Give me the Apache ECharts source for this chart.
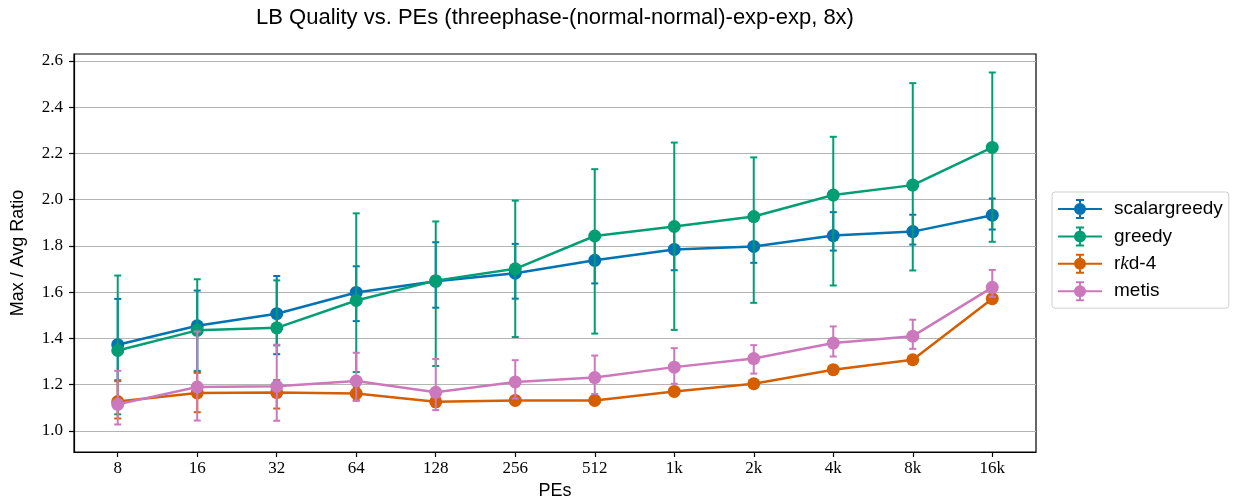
<!DOCTYPE html>
<html>
<head>
<meta charset="utf-8">
<script src="https://cdn.jsdelivr.net/npm/echarts@6/dist/echarts.min.js"></script>
<style>
  html, body { margin: 0; padding: 0; background: #fff; }
  #chart { width: 1233px; height: 499px; }
</style>
</head>
<body>
<div id="chart"></div>
<script>
// PE counts on the x axis
const categories = ['8', '16', '32', '64', '128', '256', '512', '1k', '2k', '4k', '8k', '16k'];
const yTicks = [1.0, 1.2, 1.4, 1.6, 1.8, 2.0, 2.2, 2.4, 2.6];

// Max/avg load ratio per strategy: centre value and error-bar ends
const scalargreedyMean = [1.373, 1.455, 1.507, 1.599, 1.647, 1.682, 1.738, 1.785, 1.798, 1.845, 1.862, 1.933];
const scalargreedyLow  = [1.219, 1.255, 1.332, 1.475, 1.533, 1.572, 1.638, 1.695, 1.727, 1.780, 1.806, 1.871];
const scalargreedyHigh = [1.571, 1.607, 1.670, 1.712, 1.816, 1.809, 1.840, 1.882, 1.810, 1.946, 1.935, 2.005];

const greedyMean = [1.348, 1.435, 1.446, 1.564, 1.650, 1.701, 1.843, 1.884, 1.927, 2.020, 2.063, 2.226];
const greedyLow  = [1.072, 1.260, 1.370, 1.255, 1.281, 1.406, 1.421, 1.437, 1.554, 1.629, 1.694, 1.818];
const greedyHigh = [1.672, 1.656, 1.651, 1.941, 1.906, 1.996, 2.132, 2.247, 2.183, 2.272, 2.504, 2.550];

const rkdMean = [1.127, 1.164, 1.166, 1.162, 1.126, 1.132, 1.132, 1.171, 1.204, 1.265, 1.308, 1.572];
const rkdLow  = [1.054, 1.081, 1.097, 1.133, 1.105, 1.118, 1.118, 1.160, 1.195, 1.257, 1.300, 1.565];
const rkdHigh = [1.215, 1.251, 1.220, 1.190, 1.148, 1.146, 1.146, 1.183, 1.213, 1.273, 1.316, 1.580];

const metisMean = [1.115, 1.190, 1.193, 1.216, 1.167, 1.212, 1.231, 1.276, 1.313, 1.380, 1.410, 1.621];
const metisLow  = [1.028, 1.045, 1.044, 1.130, 1.090, 1.140, 1.160, 1.204, 1.248, 1.322, 1.355, 1.580];
const metisHigh = [1.260, 1.430, 1.373, 1.338, 1.311, 1.306, 1.326, 1.358, 1.371, 1.452, 1.481, 1.696];

const seriesDefs = [
  { name: 'scalargreedy', color: '#0173b2', mean: scalargreedyMean, low: scalargreedyLow, high: scalargreedyHigh },
  { name: 'greedy',       color: '#029e73', mean: greedyMean,       low: greedyLow,       high: greedyHigh },
  { name: 'rkd-4',        color: '#d55e00', mean: rkdMean,          low: rkdLow,          high: rkdHigh },
  { name: 'metis',        color: '#cc78bc', mean: metisMean,        low: metisLow,        high: metisHigh }
];

// Legend glyph: line, marker and capped error bar (all sub-paths clockwise)
const LEGEND_ICON = 'path://M0,10H44V12H0Z M21,1H23V21H21Z M18,1H26V3H18Z M18,19H26V21H18Z ' +
  'M16,11A6,6 0 1,1 28,11A6,6 0 1,1 16,11Z';

const sansFont = '"Liberation Sans", Arial, sans-serif';
const serifFont = '"Liberation Serif", "DejaVu Serif", serif';

function errorBars(def, z) {
  return {
    type: 'custom',
    name: def.name + ' (spread)',
    z: z,
    silent: true,
    animation: false,
    data: categories.map((c, i) => [i, def.low[i], def.high[i]]),
    encode: { x: 0, y: [1, 2] },
    renderItem: function (params, api) {
      const x = api.value(0);
      const lo = api.coord([x, api.value(1)]);
      const hi = api.coord([x, api.value(2)]);
      const cap = 3.5;
      const style = { stroke: def.color, lineWidth: 2, fill: null };
      return {
        type: 'group',
        children: [
          { type: 'line', shape: { x1: lo[0], y1: lo[1], x2: hi[0], y2: hi[1] }, style: style },
          { type: 'line', shape: { x1: lo[0] - cap, y1: lo[1], x2: lo[0] + cap, y2: lo[1] }, style: style },
          { type: 'line', shape: { x1: hi[0] - cap, y1: hi[1], x2: hi[0] + cap, y2: hi[1] }, style: style }
        ]
      };
    }
  };
}

const series = [];
seriesDefs.forEach(function (def, k) {
  series.push(errorBars(def, 10 + k * 2));
  series.push({
    type: 'line',
    name: def.name,
    z: 11 + k * 2,
    animation: false,
    data: categories.map((c, i) => [i, def.mean[i]]),
    symbol: 'circle',
    symbolSize: 13,
    showSymbol: true,
    color: def.color,
    lineStyle: { color: def.color, width: 2.5 },
    itemStyle: { color: def.color }
  });
});

const chart = echarts.init(document.getElementById('chart'), null, { renderer: 'canvas' });
chart.setOption({
  animation: false,
  backgroundColor: '#fff',
  title: {
    text: 'LB Quality vs. PEs (threephase-(normal-normal)-exp-exp, 8x)',
    left: 555, top: 7, textAlign: 'center', padding: 0,
    textStyle: { fontFamily: sansFont, fontSize: 22, fontWeight: 'normal', color: '#000' }
  },
  grid: {
    left: 74, right: 197, top: 54, bottom: 47,
    outerBoundsMode: 'none', containLabel: false,
    show: true, borderColor: '#000', borderWidth: 1.2, backgroundColor: 'transparent'
  },
  legend: {
    orient: 'vertical', left: 1052, top: 192,
    data: seriesDefs.map(d => ({ name: d.name, icon: LEGEND_ICON })),
    itemWidth: 44, itemHeight: 20, itemGap: 7.4,
    padding: [7, 6, 7, 6],
    backgroundColor: '#fff', borderColor: '#d0d0d0', borderWidth: 1, borderRadius: 3,
    selectedMode: false,
    formatter: n => (n === 'rkd-4' ? 'r{k|k}d-4' : n),
    textStyle: {
      fontFamily: sansFont, fontSize: 19, color: '#000', padding: [0, 0, 0, 7],
      rich: { k: { fontFamily: serifFont, fontStyle: 'italic', fontSize: 19, color: '#000' } }
    }
  },
  xAxis: {
    type: 'value',
    min: -0.55, max: 11.55,
    name: 'PEs', nameLocation: 'middle', nameGap: 25,
    nameTextStyle: { fontFamily: sansFont, fontSize: 18, color: '#000' },
    axisLine: { show: true, onZero: false, lineStyle: { color: '#000', width: 1.2 } },
    axisTick: { show: true, inside: false, length: 5, customValues: categories.map((c, i) => i),
                lineStyle: { color: '#000', width: 1.2 } },
    axisLabel: { customValues: categories.map((c, i) => i), margin: 8,
                 formatter: v => categories[Math.round(v)],
                 fontFamily: serifFont, fontSize: 17, color: '#000' },
    splitLine: { show: false }
  },
  yAxis: {
    type: 'value',
    min: 0.909, max: 2.63,
    name: 'Max / Avg Ratio', nameLocation: 'middle', nameGap: 47, nameRotate: 90,
    nameTextStyle: { fontFamily: sansFont, fontSize: 18, color: '#000' },
    axisLine: { show: true, onZero: false, lineStyle: { color: '#000', width: 1.2 } },
    axisTick: { show: true, inside: false, length: 5, customValues: yTicks,
                lineStyle: { color: '#000', width: 1.2 } },
    axisLabel: { customValues: yTicks, margin: 11, formatter: v => v.toFixed(1),
                 fontFamily: serifFont, fontSize: 17, color: '#000' },
    splitLine: { show: true, lineStyle: { color: '#b4b4b4', width: 1.2 } }
  },
  series: series
});
</script>
</body>
</html>
